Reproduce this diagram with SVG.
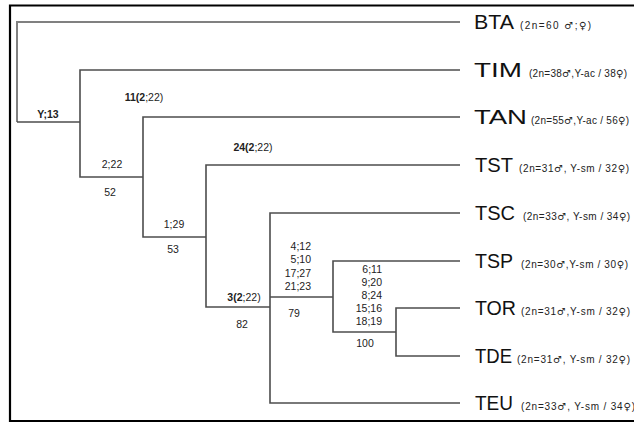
<svg xmlns="http://www.w3.org/2000/svg" width="634" height="423" viewBox="0 0 634 423">
<style>
.frame{fill:none;stroke:#000;stroke-width:2.2}
.br{fill:none;stroke:#4d4d4d;stroke-width:1.6}
.br2{fill:none;stroke:#808080;stroke-width:2}
.lbl{font-family:"Liberation Sans",Arial,sans-serif;font-size:10.5px;fill:#222}
.b{font-weight:bold}
.tx{font-family:"Liberation Sans",Arial,sans-serif;font-size:21px;fill:#111}
.sm{font-family:"Liberation Sans",Arial,sans-serif;font-size:10px;fill:#222}
.sy{font-family:"DejaVu Sans",sans-serif;font-size:10px}
</style>
<rect width="634" height="423" fill="#fff"/>
<path class="frame" d="M634,5.5 H10 V421 H634"/>
<g id="connectors">
<path class="br2" d="M460,22 H17 V122"/>
<path class="br" d="M17,122 H80"/>
<path class="br" d="M460,70 H80 V177 H143"/>
<path class="br" d="M460,117 H143 V237 H206"/>
<path class="br" d="M460,165 H206 V307 H270"/>
<path class="br" d="M460,213 H270 V403 H460"/>
<path class="br" d="M270,297 H333"/>
<path class="br" d="M460,261 H333 V332 H396"/>
<path class="br" d="M460,308 H396 V356 H460"/>
</g>
<g id="branch-labels">
<text class="lbl b" x="48" y="118" text-anchor="middle">Y;13</text>
<text class="lbl" x="144" y="101" text-anchor="middle"><tspan class="b">11(2</tspan>;22)</text>
<text class="lbl" x="112" y="168" text-anchor="middle">2;22</text>
<text class="lbl" x="110" y="196" text-anchor="middle">52</text>
<text class="lbl" x="253" y="151" text-anchor="middle"><tspan class="b">24(2</tspan>;22)</text>
<text class="lbl" x="174" y="228" text-anchor="middle">1;29</text>
<text class="lbl" x="173" y="253" text-anchor="middle">53</text>
<text class="lbl" x="244" y="301" text-anchor="middle"><tspan class="b">3(2</tspan>;22)</text>
<text class="lbl" x="242" y="328" text-anchor="middle">82</text>
<text class="lbl" x="311" y="250" text-anchor="end">4;12</text>
<text class="lbl" x="311" y="263" text-anchor="end">5;10</text>
<text class="lbl" x="311" y="277" text-anchor="end">17;27</text>
<text class="lbl" x="311" y="290" text-anchor="end">21;23</text>
<text class="lbl" x="294" y="317" text-anchor="middle">79</text>
<text class="lbl" x="382" y="273" text-anchor="end">6;11</text>
<text class="lbl" x="382" y="286" text-anchor="end">9;20</text>
<text class="lbl" x="382" y="299" text-anchor="end">8;24</text>
<text class="lbl" x="382" y="312" text-anchor="end">15;16</text>
<text class="lbl" x="382" y="325" text-anchor="end">18;19</text>
<text class="lbl" x="365" y="347" text-anchor="middle">100</text>
</g>
<g id="BTA"><text class="tx" x="474" y="29" textLength="40" lengthAdjust="spacingAndGlyphs">BTA</text><text class="sm" x="520" y="29" textLength="71" lengthAdjust="spacing">(2n=60 <tspan class="sy">♂</tspan>;<tspan class="sy">♀</tspan>)</text></g>
<g id="TIM"><text class="tx" x="474" y="77" textLength="48" lengthAdjust="spacingAndGlyphs">TIM</text><text class="sm" x="529" y="77" textLength="98" lengthAdjust="spacing">(2n=38<tspan class="sy">♂</tspan>,Y-ac / 38<tspan class="sy">♀</tspan>)</text></g>
<g id="TAN"><text class="tx" x="474" y="124" textLength="53" lengthAdjust="spacingAndGlyphs">TAN</text><text class="sm" x="531" y="124" textLength="98" lengthAdjust="spacing">(2n=55<tspan class="sy">♂</tspan>,Y-ac / 56<tspan class="sy">♀</tspan>)</text></g>
<g id="TST"><text class="tx" x="475" y="172" textLength="38" lengthAdjust="spacingAndGlyphs">TST</text><text class="sm" x="519" y="172" textLength="110" lengthAdjust="spacing">(2n=31<tspan class="sy">♂</tspan>, Y-sm / 32<tspan class="sy">♀</tspan>)</text></g>
<g id="TSC"><text class="tx" x="475" y="220" textLength="40" lengthAdjust="spacingAndGlyphs">TSC</text><text class="sm" x="523" y="220" textLength="107" lengthAdjust="spacing">(2n=33<tspan class="sy">♂</tspan>, Y-sm / 34<tspan class="sy">♀</tspan>)</text></g>
<g id="TSP"><text class="tx" x="475" y="268" textLength="38" lengthAdjust="spacingAndGlyphs">TSP</text><text class="sm" x="521" y="268" textLength="107" lengthAdjust="spacing">(2n=30<tspan class="sy">♂</tspan>,Y-sm / 30<tspan class="sy">♀</tspan>)</text></g>
<g id="TOR"><text class="tx" x="475" y="315" textLength="41" lengthAdjust="spacingAndGlyphs">TOR</text><text class="sm" x="521" y="315" textLength="109" lengthAdjust="spacing">(2n=31<tspan class="sy">♂</tspan>,Y-sm / 32<tspan class="sy">♀</tspan>)</text></g>
<g id="TDE"><text class="tx" x="475" y="363" textLength="37" lengthAdjust="spacingAndGlyphs">TDE</text><text class="sm" x="517" y="363" textLength="113" lengthAdjust="spacing">(2n=31<tspan class="sy">♂</tspan>, Y-sm / 32<tspan class="sy">♀</tspan>)</text></g>
<g id="TEU"><text class="tx" x="475" y="410" textLength="38" lengthAdjust="spacingAndGlyphs">TEU</text><text class="sm" x="521" y="410" textLength="114" lengthAdjust="spacing">(2n=33<tspan class="sy">♂</tspan>, Y-sm / 34<tspan class="sy">♀</tspan>)</text></g>
</svg>
